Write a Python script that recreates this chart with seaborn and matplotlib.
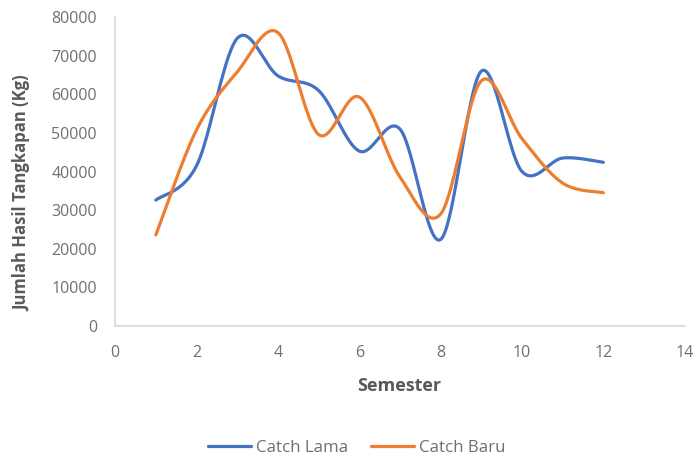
import matplotlib
matplotlib.use("Agg")
import matplotlib.pyplot as plt
import seaborn as sns
import numpy as np
import pandas as pd

semester = [1, 2, 3, 4, 5, 6, 7, 8, 9, 10, 11, 12]
catch_lama = [32600, 41500, 74500, 64800, 61000, 45300, 51000, 22400, 66000, 40000, 43500, 42400]
catch_baru = [23600, 50800, 65800, 76000, 49600, 59300, 38600, 29000, 63500, 48500, 37000, 34500]

series_names = ["Catch Lama", "Catch Baru"]
colors = ["#4472C4", "#ED7D31"]


def smooth(xs, ys, n=40):
    # excel-like smoothed line: cubic bezier with catmull-rom control points
    xs = np.asarray(xs, float)
    ys = np.asarray(ys, float)
    px = np.concatenate([[xs[0]], xs, [xs[-1]]])
    py = np.concatenate([[ys[0]], ys, [ys[-1]]])
    out_x, out_y = [], []
    t = np.linspace(0, 1, n)
    for i in range(1, len(px) - 2):
        p0 = np.array([px[i], py[i]])
        p3 = np.array([px[i + 1], py[i + 1]])
        c1 = p0 + (np.array([px[i + 1], py[i + 1]]) - np.array([px[i - 1], py[i - 1]])) / 6
        c2 = p3 - (np.array([px[i + 2], py[i + 2]]) - np.array([px[i], py[i]])) / 6
        pts = ((1 - t) ** 3)[:, None] * p0 + (3 * (1 - t) ** 2 * t)[:, None] * c1 \
            + (3 * (1 - t) * t ** 2)[:, None] * c2 + (t ** 3)[:, None] * p3
        out_x.extend(pts[:, 0])
        out_y.extend(pts[:, 1])
    return out_x, out_y


sns.set_style("white")
plt.rcParams["font.family"] = ["Open Sans", "DejaVu Sans"]

fig, ax = plt.subplots(figsize=(6.98, 4.63), dpi=100)
fig.subplots_adjust(left=0.165, right=0.981, top=0.963, bottom=0.296)

for name, vals, c in zip(series_names, [catch_lama, catch_baru], colors):
    sx, sy = smooth(semester, vals)
    sns.lineplot(x=np.array(sx), y=np.array(sy), sort=False,
                 color=c, linewidth=2.3, ax=ax, label=name)

ax.set_xlim(0, 14)
ax.set_ylim(0, 80000)
ax.set_xticks(range(0, 15, 2))
ax.set_yticks(range(0, 80001, 10000))
ax.tick_params(axis="both", colors="#707070", labelsize=11.5, length=0)
ax.tick_params(axis="y", pad=13)
ax.tick_params(axis="x", pad=14)
for s in ["top", "right"]:
    ax.spines[s].set_visible(False)
for s in ["left", "bottom"]:
    ax.spines[s].set_color("#D9D9D9")
    ax.spines[s].set_linewidth(1.2)

ax.set_xlabel("Semester", fontsize=13, fontweight="bold", color="#595959")
ax.xaxis.set_label_coords(0.499, -0.165)
ax.set_ylabel("Jumlah Hasil Tangkapan (Kg)", fontsize=12, fontweight="bold",
              color="#595959")
ax.yaxis.set_label_coords(-0.148, 0.43)

ax.get_legend().remove()
handles, labels = ax.get_legend_handles_labels()
leg = fig.legend(handles, labels, loc="center", bbox_to_anchor=(0.511, 0.032), ncol=2,
                 frameon=False, fontsize=12.2, handlelength=2.55, columnspacing=1.35,
                 handletextpad=0.3)
for t in leg.get_texts():
    t.set_color("#707070")

fig.savefig("out.png", dpi=100)
